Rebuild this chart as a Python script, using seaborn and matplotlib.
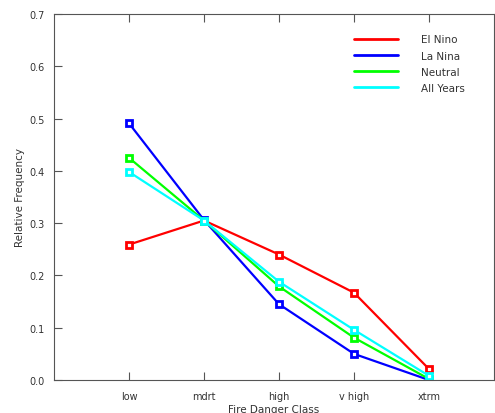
import numpy as np
import pandas as pd
import matplotlib
matplotlib.use("Agg")
import matplotlib.pyplot as plt
import seaborn as sns
from matplotlib.lines import Line2D

classes = ['low', 'mdrt', 'high', 'v high', 'xtrm']
el_nino = [0.259, 0.305, 0.240, 0.167, 0.021]
la_nina = [0.491, 0.306, 0.145, 0.050, 0.000]
neutral = [0.425, 0.305, 0.179, 0.081, 0.002]
all_years = [0.398, 0.305, 0.188, 0.096, 0.008]

series = ['El Nino', 'La Nina', 'Neutral', 'All Years']
_colors = ['#ff0000', '#0000ff', '#00ff00', '#00ffff']

rows = []
for name, vals in zip(series, [el_nino, la_nina, neutral, all_years]):
    for i, v in enumerate(vals):
        rows.append({'cls': i, 'freq': v, 'series': name})
df = pd.DataFrame(rows)

sns.set_style('white')
plt.rcParams['font.family'] = ['DejaVu Sans']

fig = plt.figure(figsize=(4.95, 4.14), dpi=100)
ax = fig.add_axes([54/495, 33/414, 440/495, 366/414])

sns.lineplot(data=df, x='cls', y='freq', hue='series', palette=_colors,
             hue_order=series, marker='s', markersize=4.5, markeredgewidth=2,
             markerfacecolor='white', linewidth=1.6, ax=ax, legend=False)
for line, c in zip(ax.lines, _colors):
    line.set_markeredgecolor(c)

ax.set_xlim(-1, 4.867)
ax.set_ylim(0, 0.7)
ax.set_xticks(range(len(classes)))
ax.set_xticklabels(classes)
ax.set_yticks(np.arange(0, 0.71, 0.1))
ax.set_yticklabels(['%.1f' % t for t in np.arange(0, 0.71, 0.1)])

txtc = '#333333'
ax.tick_params(direction='in', length=6, width=0.8, color='#555555',
               labelsize=7, labelcolor=txtc, top=True, bottom=True,
               left=True, right=False)
ax.tick_params(axis='x', pad=8)
ax.tick_params(axis='y', pad=7)
for s in ax.spines.values():
    s.set_color('#555555')
    s.set_linewidth(0.8)

ax.set_xlabel('Fire Danger Class', fontsize=7.5, color=txtc, labelpad=2)
ax.set_ylabel('Relative Frequency', fontsize=7.5, color=txtc, labelpad=3)

handles = [Line2D([0], [0], color=c, lw=2) for c in _colors]
leg = ax.legend(handles, series, loc='upper right', bbox_to_anchor=(0.955, 0.97),
                frameon=False, fontsize=7.5, handlelength=4.2, handletextpad=2.2,
                labelspacing=0.6)
for t in leg.get_texts():
    t.set_color(txtc)

fig.savefig('out.png', dpi=100)
